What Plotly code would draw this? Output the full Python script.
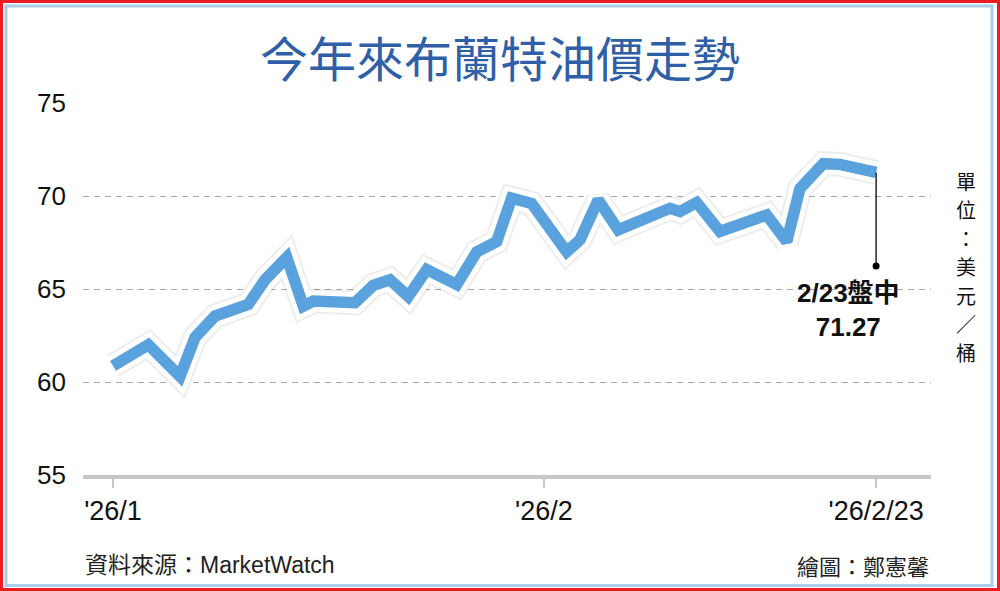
import plotly.graph_objects as go

# ---- data ----
# x: position in days from 2026-01-01 (as drawn on the chart's time axis)
day_pos = [0, 2.54, 4.82, 5.9, 7.34, 9.73, 10.94, 12.5, 13.69, 14.41, 17.41, 18.73,
           19.93, 21.24, 22.57, 24.73, 26.17, 27.6, 28.68, 30.12, 32.64, 33.6, 34.91,
           36.35, 40.07, 40.79, 41.99, 43.67, 47.03, 48.47, 49.42, 51.1, 52.3, 54.9]
brent = [60.87, 62.0, 60.3, 62.4, 63.55, 64.17, 65.5, 66.7, 64.08, 64.35, 64.26, 65.2,
         65.5, 64.6, 66.04, 65.24, 67.0, 67.55, 69.88, 69.6, 67.0, 67.65, 69.79,
         68.18, 69.34, 69.16, 69.65, 68.09, 68.98, 67.55, 70.4, 71.74, 71.7, 71.27]

x_tickvals = [0, 31, 54.9]
x_ticktext = ["'26/1", "'26/2", "'26/2/23"]
y_tickvals = [55, 60, 65, 70, 75]

last_label = "2/23盤中<br>71.27"
dot_value = 66.24

title_text = "今年來布蘭特油價走勢"
unit_chars = ["單", "位", "：", "美", "元", "／", "桶"]
source_text = "資料來源：MarketWatch"
credit_text = "繪圖：鄭憲馨"

# ---- layout geometry (pixels) ----
W, H = 1000, 591
L, R, T, B = 83, 69, 103, 116
PW, PH = W - L - R, H - T - B


def px2x(px):
    return (px - L) / PW


def px2y(py):
    return (H - B - py) / PH


CJK = "Noto Sans CJK TC"
NUM = "Liberation Sans Narrow, Liberation Sans, Arial"

fig = go.Figure()

# shadow, white halo, blue line
fig.add_trace(go.Scatter(x=day_pos, y=brent, mode="lines",
                         line=dict(color="rgba(0,0,0,0.07)", width=25),
                         hoverinfo="skip", showlegend=False))
fig.add_trace(go.Scatter(x=day_pos, y=brent, mode="lines",
                         line=dict(color="white", width=21),
                         hoverinfo="skip", showlegend=False))
fig.add_trace(go.Scatter(x=day_pos, y=brent, mode="lines",
                         line=dict(color="#5aa2de", width=11.5),
                         showlegend=False))

# callout line + dot
fig.add_shape(type="line", xref="x", yref="y",
              x0=day_pos[-1], x1=day_pos[-1], y0=brent[-1], y1=dot_value,
              line=dict(color="black", width=1.3))
fig.add_trace(go.Scatter(x=[day_pos[-1]], y=[dot_value], mode="markers",
                         marker=dict(color="black", size=7),
                         hoverinfo="skip", showlegend=False))

annotations = []
annotations.append(dict(x=px2x(848), y=px2y(310), xref="paper", yref="paper",
                        text="<b>" + last_label + "</b>", showarrow=False,
                        font=dict(family="Liberation Sans, " + CJK, size=26, color="#111"),
                        xanchor="center", yanchor="middle", align="center"))

# title
annotations.append(dict(x=px2x(500), y=px2y(56), xref="paper", yref="paper",
                        text=title_text, showarrow=False,
                        font=dict(family=CJK, size=48, color="#2f5fa7"),
                        xanchor="center", yanchor="middle"))

# unit (vertical)
for i, ch in enumerate(unit_chars):
    annotations.append(dict(x=px2x(966), y=px2y(181 + i * 28.5), xref="paper", yref="paper",
                            text=ch, showarrow=False,
                            font=dict(family=CJK, size=20, color="#111"),
                            xanchor="center", yanchor="middle"))

# source & credit
annotations.append(dict(x=px2x(83), y=px2y(565), xref="paper", yref="paper",
                        text=source_text, showarrow=False,
                        font=dict(family=NUM + ", " + CJK, size=23, color="#222"),
                        xanchor="left", yanchor="middle"))
annotations.append(dict(x=px2x(931), y=px2y(565), xref="paper", yref="paper",
                        text=credit_text, showarrow=False,
                        font=dict(family=CJK, size=22, color="#222"),
                        xanchor="right", yanchor="middle"))

# frame
shapes = [
    dict(type="rect", xref="paper", yref="paper",
         x0=px2x(6), x1=px2x(992), y0=px2y(585.5), y1=px2y(6),
         line=dict(color="#a9cdea", width=3), layer="below"),
    dict(type="rect", xref="paper", yref="paper",
         x0=px2x(1.5), x1=px2x(998.5), y0=px2y(589.5), y1=px2y(1.5),
         line=dict(color="#ee1c25", width=3), layer="below"),
]
for s in shapes:
    fig.add_shape(**s)

fig.update_layout(
    width=W, height=H,
    margin=dict(l=L, r=R, t=T, b=B, pad=0),
    paper_bgcolor="white", plot_bgcolor="white",
    annotations=annotations,
    showlegend=False,
    xaxis=dict(range=[-2.16, 58.85], tickvals=x_tickvals, ticktext=x_ticktext,
               showgrid=False, zeroline=False,
               showline=True, linecolor="#c6c6c6", linewidth=4,
               ticks="outside", ticklen=9, tickwidth=2, tickcolor="#c6c6c6",
               tickfont=dict(family=NUM, size=27, color="#111"),
               fixedrange=True),
    yaxis=dict(range=[55, 75], tickvals=y_tickvals,
               showgrid=True, gridcolor="#aaaaaa", gridwidth=1.3, griddash="6px,5px",
               zeroline=False, showline=False, ticks="",
               ticklabelstandoff=16,
               tickfont=dict(family="Liberation Sans, Arial", size=26, color="#111"),
               fixedrange=True),
)

fig.write_html("out.html", config={"displayModeBar": False},
               post_script="document.body.style.margin='0';document.body.style.overflow='hidden';")
